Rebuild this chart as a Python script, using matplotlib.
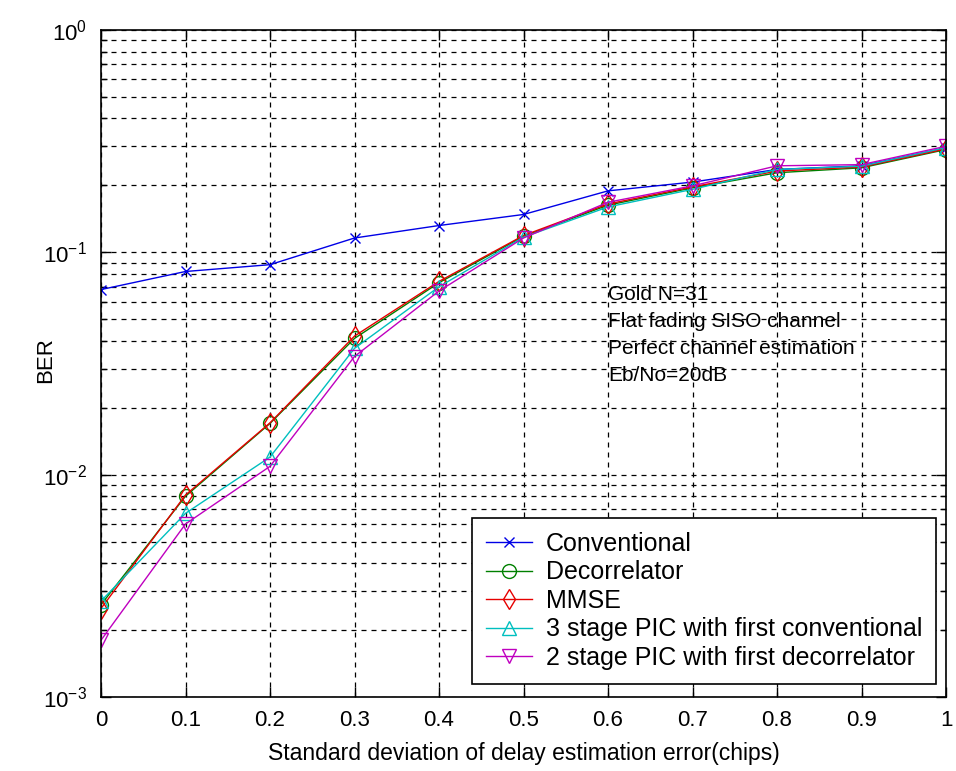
import matplotlib
matplotlib.use("Agg")
import matplotlib.pyplot as plt
from matplotlib.ticker import LogLocator, FixedLocator, NullFormatter

plt.rcParams['font.family'] = ['Liberation Sans', 'DejaVu Sans']

# delay estimation error std (chips)
sigma = [0, 0.1, 0.2, 0.3, 0.4, 0.5, 0.6, 0.7, 0.8, 0.9, 1.0]
x_labels = ['0', '0.1', '0.2', '0.3', '0.4', '0.5', '0.6', '0.7', '0.8', '0.9', '1']

# BER
conventional = [0.068, 0.082, 0.088, 0.116, 0.132, 0.148, 0.189, 0.207, 0.236, 0.245, 0.295]
decorrelator = [0.0026, 0.0080, 0.0170, 0.041, 0.073, 0.118, 0.163, 0.195, 0.228, 0.240, 0.290]
mmse = [0.0025, 0.0081, 0.0171, 0.042, 0.074, 0.119, 0.165, 0.197, 0.232, 0.242, 0.292]
pic3_conv = [0.0027, 0.0067, 0.0120, 0.037, 0.070, 0.117, 0.160, 0.192, 0.236, 0.244, 0.296]
pic2_decor = [0.0018, 0.0060, 0.0109, 0.034, 0.067, 0.116, 0.168, 0.199, 0.245, 0.248, 0.300]

series = [
    (conventional, 'Conventional', (0, 0, 0.9), 'x', 7),
    (decorrelator, 'Decorrelator', (0, 0.5, 0), 'o', 10),
    (mmse, 'MMSE', (0.9, 0, 0), 'd', 10),
    (pic3_conv, '3 stage PIC with first conventional', (0, 0.75, 0.75), '^', 10),
    (pic2_decor, '2 stage PIC with first decorrelator', (0.75, 0, 0.75), 'v', 10),
]

fig = plt.figure(figsize=(9.56, 7.71), dpi=100)
ax = fig.add_axes([101 / 956, 1 - 697 / 771, 845 / 956, 667 / 771])

for vals, name, col, mk, ms in series:
    ax.plot(sigma, vals, color=col, marker=mk, markersize=ms, markerfacecolor='none',
            markeredgecolor=col, linewidth=1.0, label=name)

ax.set_yscale('log')
ax.set_ylim(1e-3, 1)
ax.set_xlim(0, 1)

ax.xaxis.set_major_locator(FixedLocator(sigma))
ax.set_xticklabels(x_labels)
ax.yaxis.set_major_locator(LogLocator(base=10, numticks=10))
ax.yaxis.set_minor_locator(LogLocator(base=10, subs=range(2, 10), numticks=20))
ax.yaxis.set_minor_formatter(NullFormatter())

dash = (0, (4, 4))
ax.grid(True, which='major', axis='both', color='black', linestyle=dash, linewidth=0.9)
ax.grid(True, which='minor', axis='y', color='black', linestyle=dash, linewidth=0.9)

ax.tick_params(which='both', direction='in', top=True, right=True, labelsize=16)
ax.tick_params(which='major', length=7, width=1)
ax.tick_params(axis='x', which='major', pad=9)
ax.tick_params(axis='y', which='major', pad=10)
ax.tick_params(which='minor', length=4, width=1)
for sp in ax.spines.values():
    sp.set_linewidth(1.2)

ax.set_xlabel('Standard deviation of delay estimation error(chips)', fontsize=16.5, labelpad=8)
ax.set_ylabel('BER', fontsize=16)
ax.yaxis.set_label_coords(-0.053, 0.505)

ax.text(0.6, 0.0715, 'Gold N=31\nFlat fading SISO channel\nPerfect channel estimation\nEb/No=20dB',
        fontsize=15, va='top', ha='left', linespacing=1.55)

leg = ax.legend(loc='lower right', bbox_to_anchor=(0.988, 0.02), borderaxespad=0,
                fontsize=18, fancybox=False, framealpha=1, edgecolor='black',
                handlelength=1.85, handletextpad=0.55, labelspacing=0.18, borderpad=0.55)
leg.get_frame().set_linewidth(1.2)

fig.savefig('out.png', dpi=100)
